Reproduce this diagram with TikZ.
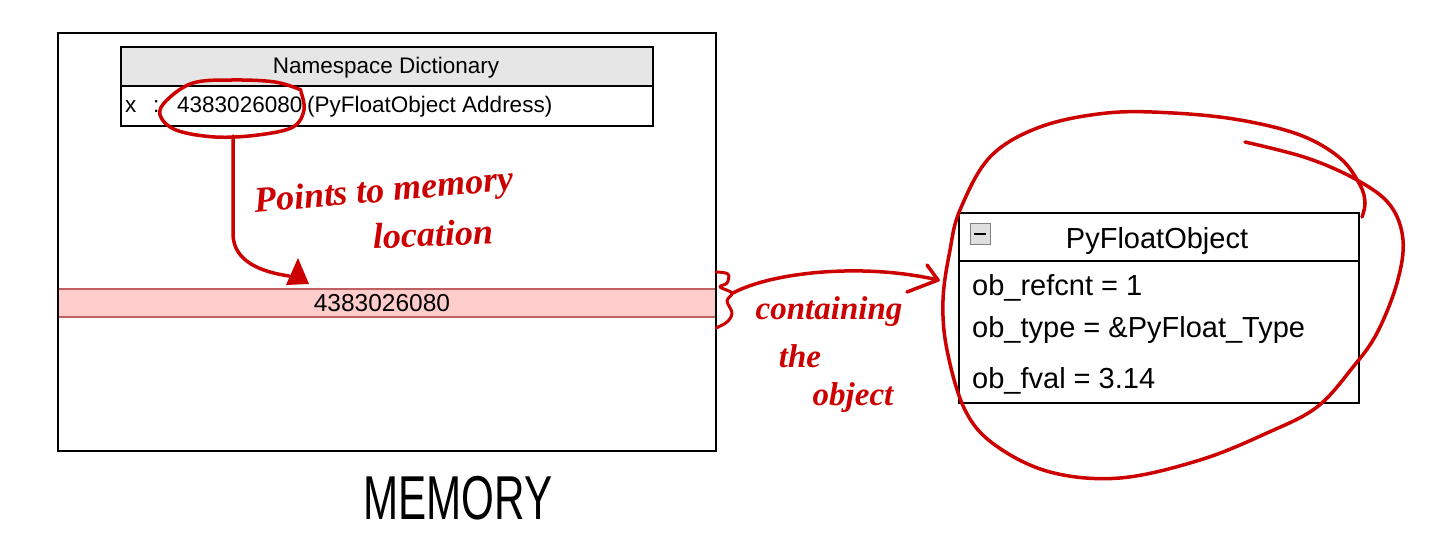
\documentclass[tikz,border=0pt]{standalone}
\usepackage{fontspec}
\setmainfont{Liberation Sans}
\newfontfamily\hand{Liberation Serif}
\usetikzlibrary{arrows.meta}
\definecolor{pen}{HTML}{CC0000}
\definecolor{hdrgray}{HTML}{E6E6E6}
\definecolor{bandfill}{HTML}{FFCCCC}
\definecolor{bandline}{HTML}{C06060}
\begin{document}
\begin{tikzpicture}[x=1pt,y=-1pt,
  box/.style={draw=black, line width=2pt, inner sep=0pt, anchor=north west},
  penline/.style={draw=pen, line width=3.5pt, line cap=round, line join=round},
  handtext/.style={text=pen, inner sep=0pt, font=\hand\bfseries\itshape\fontsize{36}{38}\selectfont},
  handsmall/.style={handtext, font=\hand\bfseries\itshape\fontsize{33}{35}\selectfont},
  txt/.style={inner sep=0pt, font=\fontsize{22.5}{26}\selectfont},
  bigtxt/.style={inner sep=0pt, font=\fontsize{29}{32}\selectfont}]
\useasboundingbox (0,0) rectangle (1456,556);
\fill[white] (0,0) rectangle (1456,556);

% memory band
\node[draw=bandline, fill=bandfill, line width=1.5pt, minimum width=658pt, minimum height=28pt,
      anchor=north west, inner sep=0pt] (band) at (57,288) {};
\node[inner sep=0pt, font=\fontsize{24.5}{28}\selectfont, anchor=base] (bandnum) at (382,311) {4383026080};

% memory box
\node[box, minimum width=658pt, minimum height=418pt] (mem) at (57,32) {};

% namespace dictionary
\node[box, fill=hdrgray, minimum width=532pt, minimum height=39pt] (nshead) at (120,46) {};
\node[txt, anchor=base] (nstitle) at (386,74) {Namespace Dictionary};
\node[box, fill=white, minimum width=532pt, minimum height=40pt] (nsrow) at (120,85) {};
\node[txt, anchor=base west] (xname) at (125,113) {x};
\node[txt, anchor=base west] (colon) at (153,113) {:};
\node[txt, anchor=base west] (addr) at (177,113) {4383026080};
\node[txt, anchor=base west] (addrlbl) at (307,113) {(PyFloatObject Address)};

% PyFloatObject
\node[box, minimum width=400pt, minimum height=48pt] (pyhead) at (958,212) {};
\node[box, minimum width=400pt, minimum height=142pt] (pybody) at (958,260) {};
\node[bigtxt, anchor=base] (pytitle) at (1157,248) {PyFloatObject};
\node[draw=gray, fill=gray!25, line width=1pt, minimum size=20pt, inner sep=0pt] (minus) at (980,234) {};
\draw[line width=2pt] (minus.center) ++(-6,0) -- ++(12,0);
\node[bigtxt, anchor=base west] (f1) at (972,295) {ob\_refcnt = 1};
\node[bigtxt, anchor=base west] (f2) at (972,337) {ob\_type = \&PyFloat\_Type};
\node[bigtxt, anchor=base west] (f3) at (972,388) {ob\_fval = 3.14};

% red circle round the address
\draw[penline] plot[smooth, tension=0.6] coordinates {(301,90) (275,82) (232,80) (193,83) (167,100)
  (160,115) (176,130) (215,137) (258,135) (293,127) (304,110) (301,92)};
\coordinate (circbot) at (233,136);

% arrow to memory location
\coordinate (tipA) at (289,276);
\draw[penline] (circbot) -- (233,235) .. controls (234,262) and (262,272) .. (tipA);
\fill[pen] (286,285) -- (298,258) -- (309,284) -- cycle;

\node[handtext, rotate=5, anchor=center] (pts) at (384,193) {Points to memory};
\node[handtext, rotate=2, anchor=center] (loc) at (433,234) {location};

% brace and arrow to object
\draw[penline, line width=3pt] plot[smooth, tension=0.6] coordinates {(716,272) (728,274) (727,283) (720,287)
  (732,293) (727,301) (732,313) (727,322) (716,328)};
\coordinate (bracemid) at (733,293);
\coordinate (tipB) at (938,280);
\draw[penline] (bracemid) .. controls (770,273) and (860,262) .. (tipB);
\draw[penline] (927,265) -- (tipB) -- (907,292);

\node[handsmall] (cont) at (829,312) {containing};
\node[handsmall] (the) at (800,356) {the};
\node[handsmall] (obj) at (853,398) {object};

% big loop round PyFloatObject
\draw[penline] plot[smooth, tension=0.6] coordinates {(1245,142) (1307,158) (1357,180) (1390,205)
  (1403,240) (1397,283) (1377,333) (1353,367) (1317,407) (1267,433) (1200,460) (1120,478)
  (1050,472) (995,445) (965,410) (947,350) (943,300) (950,250) (960,210) (990,157) (1040,127)
  (1107,113) (1173,113) (1240,120) (1300,135) (1340,158) (1360,185) (1365,203) (1362,217)};

% MEMORY
\node[inner sep=0pt, font=\fontsize{62}{64}\selectfont, xscale=0.68] (memlbl) at (458,498) {MEMORY};
\end{tikzpicture}
\end{document}
